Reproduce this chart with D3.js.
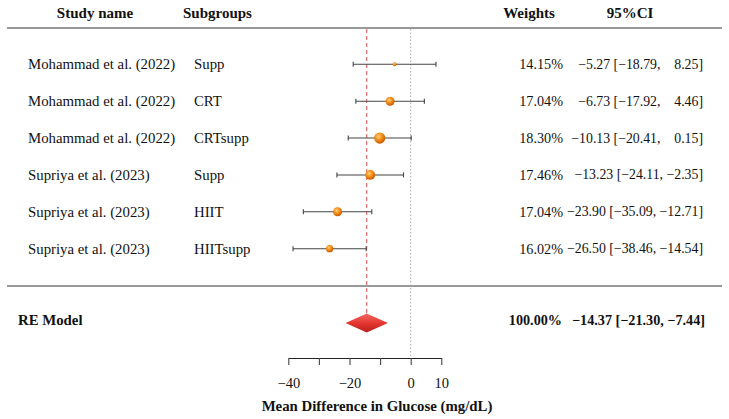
<!DOCTYPE html>
<html>
<head>
<meta charset="utf-8">
<script src="https://cdn.jsdelivr.net/npm/d3@7.9.0/dist/d3.min.js"></script>
<style>
  body { margin: 0; background: #fff; }
  svg text { font-family: "Liberation Serif", "Times New Roman", serif; fill: #111; }
</style>
</head>
<body>
<svg id="chart" width="729" height="419"></svg>
<script>
// data
const studies = ['Mohammad et al. (2022)', 'Mohammad et al. (2022)', 'Mohammad et al. (2022)',
  'Supriya et al. (2023)', 'Supriya et al. (2023)', 'Supriya et al. (2023)'];
const subgroups = ['Supp', 'CRT', 'CRTsupp', 'Supp', 'HIIT', 'HIITsupp'];
const weights = [14.15, 17.04, 18.30, 17.46, 17.04, 16.02];
const estimates = [-5.27, -6.73, -10.13, -13.23, -23.90, -26.50];
const lower = [-18.79, -17.92, -20.41, -24.11, -35.09, -38.46];
const upper = [8.25, 4.46, 0.15, -2.35, -12.71, -14.54];

const pooled = { label: 'RE Model', weight: 100.00, est: -14.37, lo: -21.30, hi: -7.44 };

const tickValues = [-40, -30, -20, -10, 0, 10];
const tickLabels = [-40, -20, 0, 10];

const svg = d3.select('#chart');

const x = d3.scaleLinear().domain([-40, 10]).range([288.3, 441.3]);
const y = d3.scalePoint().domain(d3.range(studies.length)).range([64.3, 248.7]);
const yPooled = 323;
const yAxis = 358;
const r = d3.scaleSqrt().domain([14, 18.3]).range([1.8, 5.6]);

// number formatting like R's forest output
const fmt = (v) => (v < 0 ? '\u2212' : '') + Math.abs(v).toFixed(2);
const pad = (v) => (v < 0 ? fmt(v) : '\u2007 ' + fmt(v));
const ciText = (e, l, h) => `${fmt(e)} [${fmt(l)}, ${pad(h)}]`;

// gradients for the marker and the diamond
const defs = svg.append('defs');
const rg = defs.append('radialGradient').attr('id', 'ball').attr('cx', '40%').attr('cy', '35%').attr('r', '65%');
rg.append('stop').attr('offset', '0%').attr('stop-color', '#ffd27a');
rg.append('stop').attr('offset', '45%').attr('stop-color', '#f7931e');
rg.append('stop').attr('offset', '100%').attr('stop-color', '#c85a00');
const lg = defs.append('linearGradient').attr('id', 'dia').attr('x1', 0).attr('y1', 0).attr('x2', 0).attr('y2', 1);
lg.append('stop').attr('offset', '0%').attr('stop-color', '#f26a62');
lg.append('stop').attr('offset', '55%').attr('stop-color', '#e2332c');
lg.append('stop').attr('offset', '100%').attr('stop-color', '#b8201c');

// header
const header = svg.append('g').attr('font-weight', 'bold').attr('font-size', 15);
header.append('text').attr('x', 95).attr('y', 13).attr('text-anchor', 'middle').attr('dominant-baseline', 'central').text('Study name');
header.append('text').attr('x', 183).attr('y', 13).attr('dominant-baseline', 'central').text('Subgroups');
header.append('text').attr('x', 529).attr('y', 13).attr('text-anchor', 'middle').attr('dominant-baseline', 'central').text('Weights');
header.append('text').attr('x', 630).attr('y', 13).attr('text-anchor', 'middle').attr('dominant-baseline', 'central').text('95%CI');

// horizontal rules
[28, 286].forEach((yy) => {
  svg.append('line').attr('x1', 7).attr('x2', 722).attr('y1', yy).attr('y2', yy)
    .attr('stroke', '#333').attr('stroke-width', 1.2);
});

// reference lines: null effect (dotted) and pooled estimate (dashed red)
svg.append('line').attr('x1', x(0)).attr('x2', x(0)).attr('y1', 29).attr('y2', yAxis)
  .attr('stroke', '#aaa').attr('stroke-width', 1).attr('stroke-dasharray', '1.5,2');
svg.append('line').attr('x1', x(pooled.est)).attr('x2', x(pooled.est)).attr('y1', 29).attr('y2', yPooled - 9)
  .attr('stroke', '#d9534f').attr('stroke-width', 1).attr('stroke-dasharray', '4,3');

// study rows
const rows = svg.append('g').selectAll('g').data(studies).join('g')
  .attr('transform', (d, i) => `translate(0,${y(i)})`);

rows.append('text').attr('x', 28).attr('dominant-baseline', 'central').attr('font-size', 14.8).text((d) => d);
rows.append('text').attr('x', 194).attr('dominant-baseline', 'central').attr('font-size', 14.8).text((d, i) => subgroups[i]);
rows.append('text').attr('x', 563).attr('text-anchor', 'end').attr('dominant-baseline', 'central').attr('font-size', 14.2)
  .text((d, i) => weights[i].toFixed(2) + '%');
rows.append('text').attr('x', 703).attr('text-anchor', 'end').attr('dominant-baseline', 'central').attr('font-size', 13.8)
  .text((d, i) => ciText(estimates[i], lower[i], upper[i]));

// error bars with caps
rows.append('line').attr('x1', (d, i) => x(lower[i])).attr('x2', (d, i) => x(upper[i]))
  .attr('stroke', '#444').attr('stroke-width', 1.1);
rows.append('line').attr('x1', (d, i) => x(lower[i])).attr('x2', (d, i) => x(lower[i]))
  .attr('y1', -2.5).attr('y2', 2.5).attr('stroke', '#444').attr('stroke-width', 1.1);
rows.append('line').attr('x1', (d, i) => x(upper[i])).attr('x2', (d, i) => x(upper[i]))
  .attr('y1', -2.5).attr('y2', 2.5).attr('stroke', '#444').attr('stroke-width', 1.1);
rows.append('circle').attr('cx', (d, i) => x(estimates[i])).attr('r', (d, i) => r(weights[i]))
  .attr('fill', 'url(#ball)');

// pooled row
svg.append('text').attr('x', 18).attr('y', yPooled - 3).attr('dominant-baseline', 'central')
  .attr('font-weight', 'bold').attr('font-size', 14.8).text(pooled.label);
svg.append('text').attr('x', 562).attr('y', yPooled - 3).attr('text-anchor', 'end').attr('dominant-baseline', 'central')
  .attr('font-weight', 'bold').attr('font-size', 14.2).text(pooled.weight.toFixed(2) + '%');
svg.append('text').attr('x', 705).attr('y', yPooled - 3).attr('text-anchor', 'end').attr('dominant-baseline', 'central')
  .attr('font-weight', 'bold').attr('font-size', 14.2).text(ciText(pooled.est, pooled.lo, pooled.hi));
svg.append('path')
  .attr('d', `M${x(pooled.lo)},${yPooled} L${x(pooled.est)},${yPooled - 9.5} L${x(pooled.hi)},${yPooled} L${x(pooled.est)},${yPooled + 9.5} Z`)
  .attr('fill', 'url(#dia)');

// x axis
const axis = svg.append('g').attr('transform', `translate(0,${yAxis})`)
  .call(d3.axisBottom(x).tickValues(tickValues).tickSize(7).tickSizeOuter(0).tickPadding(13)
    .tickFormat((d) => (tickLabels.includes(d) ? (d < 0 ? '\u2212' + Math.abs(d) : d) : '')));
axis.select('.domain').attr('stroke', '#222').attr('stroke-width', 1.1);
axis.selectAll('.tick line').attr('stroke', '#444').attr('stroke-width', 1.1);
axis.selectAll('.tick text').attr('font-size', 14.5).attr('font-family', '"Liberation Serif", serif').attr('fill', '#222');

svg.append('text').attr('x', 377).attr('y', 406).attr('text-anchor', 'middle').attr('dominant-baseline', 'central')
  .attr('font-weight', 'bold').attr('font-size', 14.8).text('Mean Difference in Glucose (mg/dL)');
</script>
</body>
</html>
